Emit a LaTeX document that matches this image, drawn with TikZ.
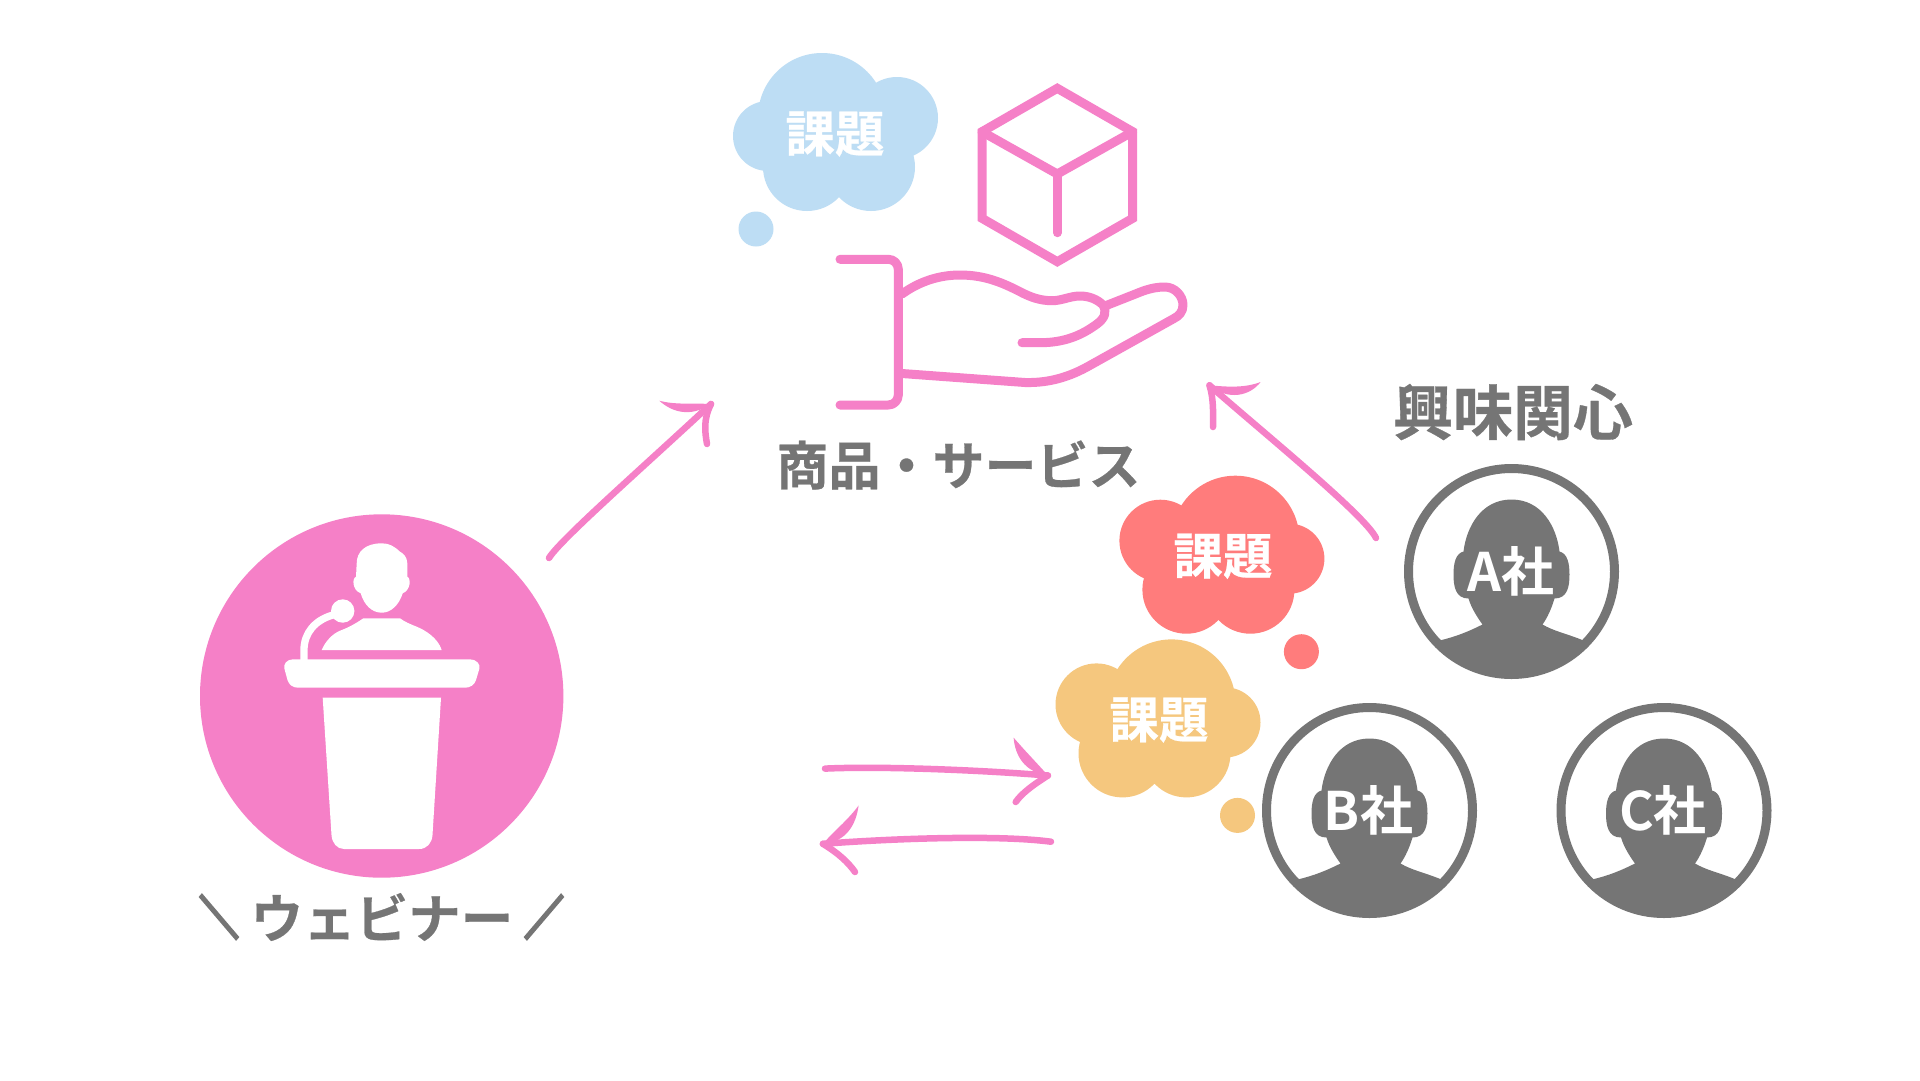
\documentclass[tikz,border=0pt]{standalone}
\usepackage{fontspec}
\newfontfamily\jpfont{Noto Sans CJK JP Bold}[FakeBold=0.5]
\newfontfamily\jplabel{Noto Sans CJK JP Bold}
\newfontfamily\jpslash{Noto Sans CJK JP Bold}[FakeBold=7]
\definecolor{pinkc}{HTML}{F580C7}
\definecolor{grayc}{HTML}{757575}
\definecolor{bluec}{HTML}{BDDDF4}
\definecolor{redc}{HTML}{FF7C7C}
\definecolor{orangec}{HTML}{F5C77E}
\tikzset{
  x=1pt,y=-1pt,
  iconline/.style={draw=pinkc,line width=9pt,line cap=round,line join=round},
  sketch/.style={draw=pinkc,line width=6.5pt,line cap=round},
  barb/.style={fill=pinkc,draw=none},
  graylabel/.style={text=grayc,inner sep=0pt},
  whitelabel/.style={text=white,inner sep=0pt},
  slashlabel/.style={text=grayc,inner sep=0pt,font=\jpslash\fontsize{52}{58}\selectfont,xscale=0.75,yscale=0.88},
}
\newcommand{\thoughtcloud}[4]{% cx, top, xscale, colour
  \begin{scope}[shift={(#1,#2)},xscale=#3]
    \fill[#4] (-14,63) circle (64pt) (-68,82) circle (35pt) (61,64) circle (41pt)
      (-29,113) circle (44pt) (35,113) circle (44pt) (0,85) circle (40pt)
      (-80,175) circle (17.5pt);
  \end{scope}}
\newcommand{\bizperson}[4]{% name, cx, cy, label
  \begin{scope}[shift={(#2,#3)}]
    \begin{scope}
      \clip (0,0) circle (103pt);
      \fill[grayc] (0,-72) .. controls (-30,-72) and (-45,-45) .. (-48,-20)
        .. controls (-56,-18) and (-58,-8) .. (-58,3)
        .. controls (-58,15) and (-56,27) .. (-43,27)
        .. controls (-40,37) and (-34,46) .. (-29,53)
        .. controls (-43,60) and (-55,65) .. (-72,69)
        -- (-110,120) -- (110,120) -- (72,69)
        .. controls (55,62) and (43,60) .. (31,53)
        .. controls (36,46) and (40,37) .. (43,27)
        .. controls (56,27) and (58,15) .. (58,3)
        .. controls (58,-8) and (56,-18) .. (48,-20)
        .. controls (45,-45) and (30,-72) .. (0,-72) -- cycle;
    \end{scope}
    \draw[grayc,line width=9pt] (0,0) circle (103pt);
    \node[whitelabel,font=\jplabel\fontsize{53}{58}\selectfont] (#1) at (-1,0) {#4};
  \end{scope}}
\begin{document}
\begin{tikzpicture}
\useasboundingbox (0,0) rectangle (1920,1080);
\fill[white] (0,0) rectangle (1920,1080);

% clouds
\thoughtcloud{836}{54}{1}{bluec}
\node[whitelabel,font=\jpfont\fontsize{49.5}{56}\selectfont] (bluetext) at (835,134) {課題};
\thoughtcloud{1221.4}{476.7}{-1}{redc}
\node[whitelabel,font=\jpfont\fontsize{49.5}{56}\selectfont] (redtext) at (1223,556.3) {課題};
\thoughtcloud{1157.5}{640.4}{-1}{orangec}
\node[whitelabel,font=\jpfont\fontsize{49.5}{56}\selectfont] (orangetext) at (1159,720) {課題};

% cube
\draw[iconline,line join=miter] (1057.3,88.3) -- (1132.7,131.7) -- (1132.7,218.3) -- (1057.3,261.7)
  -- (982,218.3) -- (982,131.7) -- cycle;
\draw[iconline] (982,131.7) -- (1057.3,174) -- (1132.7,131.7);
\draw[iconline] (1057.3,174) -- (1057.3,232.7);

% hand
\draw[iconline,rounded corners=10pt] (840,259.3) -- (898.3,259.3) -- (898.3,405) -- (840,405);
\draw[iconline] (902,294) .. controls (920,281) and (940,275) .. (960,275)
  .. controls (985,275) and (1003,283) .. (1020,291.7)
  .. controls (1030,297) and (1040,300.7) .. (1052,300.7)
  .. controls (1062,300.7) and (1070,296) .. (1080,296)
  .. controls (1090,296) and (1098,300) .. (1103,305)
  .. controls (1107,312) and (1105,318) .. (1097,324)
  .. controls (1082,335) and (1065,342.7) .. (1040,342.7) -- (1022,342.7);
\draw[iconline] (1105,306) -- (1143,291)
  .. controls (1152,288) and (1158,287) .. (1165,287)
  .. controls (1175,287) and (1183,296) .. (1183,305)
  .. controls (1183,312) and (1179,316) .. (1173,319)
  -- (1087,367)
  .. controls (1065,379) and (1045,383) .. (1025,382.5)
  -- (902,373.5);
\node[graylabel,font=\jpfont\fontsize{52}{58}\selectfont] (product) at (958.5,465) {商品・サービス};

% speaker
\node[circle,fill=pinkc,minimum size=363.4pt,inner sep=0pt] (speaker) at (381.7,696) {};
\fill[white] (381.7,543.3) .. controls (365,543.3) and (356.7,552) .. (356.7,563.3)
  -- (356,576.7) .. controls (352,578) and (352,590) .. (360.7,593.3)
  .. controls (364,605) and (372,612.7) .. (381.7,612.7)
  .. controls (391,612.7) and (399,605) .. (402.7,593.3)
  .. controls (411,590) and (411,578) .. (407.3,576.7)
  -- (407.3,563.3) .. controls (407.3,557) and (403,553) .. (400,551.7)
  .. controls (394,546) and (389,543.3) .. (381.7,543.3) -- cycle;
\fill[white] (321.7,650) -- (441.7,650) .. controls (438,638) and (425,630) .. (416.7,626.7)
  .. controls (410,624) and (405,622) .. (400,618.3) -- (363.3,618.3)
  .. controls (358,622) and (350,627) .. (340,630.7)
  .. controls (332,634) and (325,642) .. (321.7,650) -- cycle;
\draw[white,line width=7.3pt] (304,662) -- (304,650) .. controls (304,633) and (315,620) .. (333,615);
\fill[white] (342.7,611) circle (11.7pt);
\fill[white] (293,659.3) -- (470,659.3) .. controls (476,659.3) and (481,664) .. (479.3,669)
  -- (476,680) .. controls (474.5,685) and (470,687.7) .. (465,687.7)
  -- (298.3,687.7) .. controls (293,687.7) and (289,685) .. (287.5,680)
  -- (284.5,669) .. controls (283,664) and (287,659.3) .. (293,659.3) -- cycle;
\fill[white] (322.7,697.7) -- (441,697.7) -- (432.5,835)
  .. controls (432,843) and (427,849) .. (419,849) -- (344,849)
  .. controls (337,849) and (332,843) .. (331.5,835) -- cycle;
\node[slashlabel] (slashleft) at (219,917) {＼};
\node[graylabel,font=\jpfont\fontsize{52.5}{58}\selectfont] (webinar) at (382,917) {ウェビナー};
\node[slashlabel] (slashright) at (544,917) {／};

% interest
\node[graylabel,font=\jpfont\fontsize{60}{66}\selectfont] (interest) at (1513,412) {興味関心};
\bizperson{firma}{1511.5}{571.5}{A社}
\bizperson{firmb}{1369.5}{810.5}{B社}
\bizperson{firmc}{1664}{810.5}{C社}

% sketched arrows
\coordinate (a1s) at (549,558);
\coordinate (a1e) at (711,404);
\draw[sketch] (a1s) .. controls (560,540) and (640,470) .. (a1e);
\fill[barb] (a1e) .. controls (690,418) and (672,412) .. (659.3,400.7) .. controls (675,405) and (692,403) .. (a1e) -- cycle;
\draw[sketch] (a1e) .. controls (703,420) and (705,432) .. (707,444);

\coordinate (a2s) at (1376,538);
\coordinate (a2e) at (1209.5,385.3);
\draw[sketch] (a2s) .. controls (1365,515) and (1260,430) .. (a2e);
\fill[barb] (a2e) .. controls (1228,401) and (1250,396) .. (1260.6,382) .. controls (1245,388) and (1228,387) .. (a2e) -- cycle;
\draw[sketch] (a2e) .. controls (1214,400) and (1213,415) .. (1213,427);

\coordinate (a3s) at (825,768.6);
\coordinate (a3e) at (1047.9,775.5);
\draw[sketch] (a3s) .. controls (880,766) and (980,770) .. (a3e);
\fill[barb] (a3e) .. controls (1024,772) and (1015,755) .. (1013.6,737.6) .. controls (1026,752) and (1036,762) .. (a3e) -- cycle;
\draw[sketch] (a3e) .. controls (1033,785) and (1022,793) .. (1015.7,802);

\coordinate (a4s) at (1051,841.7);
\coordinate (a4e) at (822.9,843.8);
\draw[sketch] (a4s) .. controls (1000,835) and (900,838) .. (a4e);
\fill[barb] (a4e) .. controls (846,842) and (856,825) .. (858.6,805.5) .. controls (848,820) and (834,831) .. (a4e) -- cycle;
\draw[sketch] (a4e) .. controls (838,853) and (848,862) .. (855,872);
\end{tikzpicture}
\end{document}
